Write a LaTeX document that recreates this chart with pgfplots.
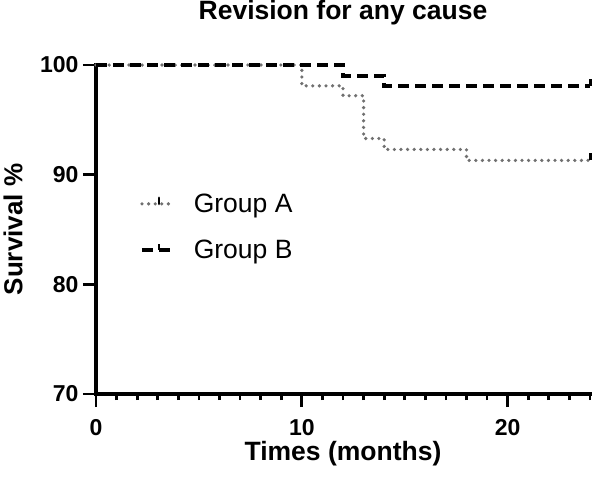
\documentclass[border=0pt]{standalone}
\usepackage{pgfplots}
\pgfplotsset{compat=1.18}
\usepackage{fontspec}
\setmainfont{Liberation Sans}
\pgfdeclareplotmark{cens}{\pgfpathmoveto{\pgfpointorigin}\pgfpathlineto{\pgfpoint{0pt}{7pt}}\pgfusepathqstroke}
\definecolor{grpA}{HTML}{707070}
\begin{document}
\begin{tikzpicture}
\begin{axis}[
  scale only axis, width=494pt, height=329pt,
  xmin=0, xmax=24, ymin=70, ymax=100,
  axis lines*=left,
  axis line style={line width=3.2pt, line cap=rect},
  every tick/.style={black, line width=2.8pt},
  tick align=outside,
  major tick length=13pt, minor tick length=6pt,
  xtick={0,10,20}, minor xtick={1,...,24},
  ytick={70,80,90,100},
  clip=false,
  /pgf/number format/assume math mode=true,
  ticklabel style={font=\bfseries\fontsize{23}{23}\selectfont},
  xticklabel style={yshift=-9pt},
  yticklabel style={xshift=-1pt},
  every axis title shift=0pt,
  title={Revision for any cause},
  title style={at={(axis description cs:0.5,1.137)}, anchor=base, yshift=0pt, font=\bfseries\fontsize{26.5}{26.5}\selectfont},
  xlabel={Times (months)},
  xlabel style={at={(axis description cs:0.5,-0.182)}, anchor=center, font=\bfseries\fontsize{26.5}{26.5}\selectfont},
  ylabel={Survival \%},
  ylabel style={at={(axis description cs:-0.168,0.5)}, rotate=0, anchor=center, font=\bfseries\fontsize{26}{26}\selectfont},
  legend style={draw=none, fill=none, at={(axis description cs:0.083,0.508)}, anchor=west,
    font=\fontsize{26.5}{26.5}\selectfont, row sep=20pt, legend cell align=left,
    nodes={inner sep=3pt}},
  legend image code/.code={
    \draw[#1] (0pt,0pt) -- (31pt,0pt);
    \draw[black, solid, line width=2.8pt] (17pt,0pt) -- (17pt,6pt);
  },
]
\addplot[grpA, line width=3.6pt, line cap=round, dash pattern=on 0pt off 6.6pt, const plot]
  coordinates {(0,100) (10,98.1) (12,97.2) (13,93.3) (14,92.3) (18,91.3) (24,91.3)};
\addlegendentry{\hspace{16pt}Group A}
\addplot[black, line width=3.6pt, dash pattern=on 11pt off 6pt, const plot]
  coordinates {(0,100) (12,99.0) (14,98.1) (24,98.1)};
\addlegendentry{\hspace{16pt}Group B}
\addplot[black, line width=3pt, only marks, mark=cens, forget plot] coordinates {(24,91.3) (24,98.1)};
\end{axis}
\pgfresetboundingbox
\path (current axis.south west) ++(-96pt,-89pt) rectangle ++(596pt,483pt);
\end{tikzpicture}
\end{document}
